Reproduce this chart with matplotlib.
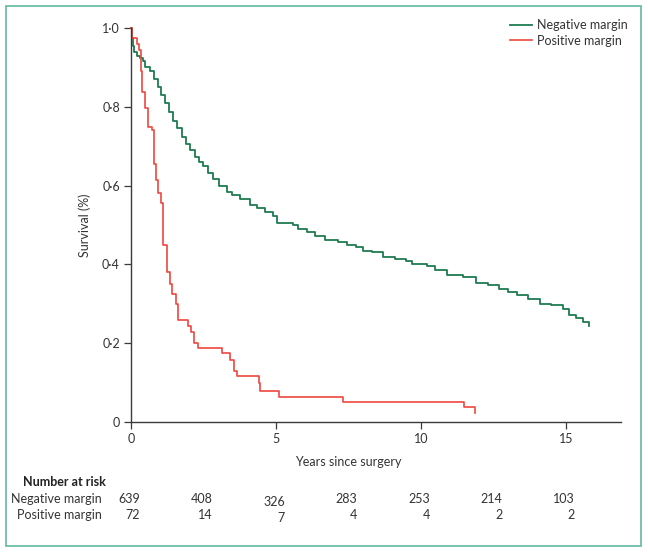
import matplotlib.pyplot as plt
import matplotlib.patches as patches
import numpy as np

plt.rcParams['font.family'] = ['Lato', 'DejaVu Sans']

# Kaplan-Meier steps (years, survival)
neg_t = [0, 0.03, 0.07, 0.12, 0.2, 0.31, 0.4, 0.48, 0.66, 0.8, 0.93, 1.05, 1.17, 1.3, 1.45,
         1.6, 1.76, 1.9, 2.03, 2.2, 2.35, 2.48, 2.65, 2.83, 3.05, 3.3, 3.5, 3.76, 4.1, 4.35,
         4.62, 4.9, 5.03, 5.59, 5.76, 6.07, 6.34, 6.7, 7.14, 7.45, 7.75, 8.0, 8.3, 8.69, 9.1,
         9.5, 9.7, 10.2, 10.5, 10.9, 11.45, 11.9, 12.3, 12.7, 13.0, 13.3, 13.7, 14.1, 14.5,
         14.9, 15.1, 15.35, 15.6, 15.8]
neg_s = [1.0, 0.975, 0.955, 0.94, 0.93, 0.924, 0.915, 0.9, 0.89, 0.87, 0.85, 0.83, 0.81, 0.787,
         0.765, 0.745, 0.723, 0.705, 0.69, 0.673, 0.66, 0.649, 0.632, 0.616, 0.6, 0.585, 0.577,
         0.567, 0.552, 0.543, 0.534, 0.522, 0.506, 0.499, 0.489, 0.483, 0.471, 0.463, 0.456,
         0.448, 0.443, 0.435, 0.432, 0.42, 0.414, 0.408, 0.4, 0.395, 0.385, 0.374, 0.369,
         0.354, 0.348, 0.338, 0.33, 0.323, 0.312, 0.3, 0.296, 0.287, 0.272, 0.265, 0.254, 0.244]

pos_t = [0, 0.04, 0.21, 0.28, 0.34, 0.38, 0.48, 0.59, 0.72, 0.79, 0.86, 0.93, 1.03, 1.1, 1.24,
         1.34, 1.41, 1.55, 1.62, 1.97, 2.07, 2.17, 2.31, 3.14, 3.41, 3.55, 3.65, 4.41, 4.45,
         5.1, 7.31, 11.48, 11.87]
pos_s = [1.0, 0.975, 0.96, 0.944, 0.89, 0.837, 0.796, 0.748, 0.74, 0.656, 0.613, 0.58, 0.557,
         0.45, 0.38, 0.351, 0.326, 0.3, 0.259, 0.244, 0.228, 0.2, 0.188, 0.175, 0.157, 0.13,
         0.118, 0.1, 0.079, 0.064, 0.05, 0.038, 0.023]

risk_times = [0, 2.5, 5, 7.5, 10, 12.5, 15]
risk_neg = [639, 408, 326, 283, 253, 214, 103]
risk_pos = [72, 14, 7, 4, 4, 2, 2]

green = '#1e7b50'
red = '#f0473f'
axcol = '#3a3a3a'

W, H = 648, 553
fig = plt.figure(figsize=(W / 100, H / 100), dpi=100)
ax = fig.add_axes([131 / W, 1 - 422 / H, 490 / W, 394 / H])

ax.plot(neg_t, neg_s, drawstyle='steps-post', color=green, lw=1.3, clip_on=False,
        label='Negative margin')
ax.plot(pos_t, pos_s, drawstyle='steps-post', color=red, lw=1.2, clip_on=False,
        label='Positive margin')

ax.set_xlim(0, 16.9)
ax.set_ylim(0, 1.0)
ax.set_xticks([0, 5, 10, 15])
ax.set_xticklabels(['0', '5', '10', '15'])
ax.set_yticks([0, 0.2, 0.4, 0.6, 0.8, 1.0])
ax.set_yticklabels(['0', '0\u00b72', '0\u00b74', '0\u00b76', '0\u00b78', '1\u00b70'])
for s in ['top', 'right']:
    ax.spines[s].set_visible(False)
for s in ['left', 'bottom']:
    ax.spines[s].set_color(axcol)
    ax.spines[s].set_linewidth(1.0)
ax.tick_params(colors=axcol, labelcolor='#333333', labelsize=9, length=5, width=0.9, pad=3)
ax.set_ylabel('Survival (%)', fontsize=9, color='#333333', labelpad=8)

px = 1 / 394.0  # one pixel in axes units (vertical)
trans = ax.get_xaxis_transform()

# x label sits under the middle of 0-15
ax.text(7.5, (422 - 462) * px, 'Years since surgery', transform=trans,
        ha='center', va='center', fontsize=9, color='#333333')

leg = ax.legend(loc='upper left', bbox_to_anchor=(510 / W, 1 - 19 / H),
                bbox_transform=fig.transFigure, frameon=False, fontsize=9,
                handlelength=1.75, handletextpad=0.4, labelspacing=0.3, borderpad=0,
                borderaxespad=0)
for t in leg.get_texts():
    t.set_color('#333333')

# number at risk table
fig.text(23 / W, 1 - 482 / H, 'Number at risk', fontsize=9, fontweight='bold',
         color='#222222', ha='left', va='center')
fig.text(102 / W, 1 - 499 / H, 'Negative margin', fontsize=9, color='#333333',
         ha='right', va='center')
fig.text(102 / W, 1 - 515 / H, 'Positive margin', fontsize=9, color='#333333',
         ha='right', va='center')
for i, t in enumerate(risk_times):
    dy = 3 if t == 5 else 0
    xr = t + 9 / 29.0
    ax.text(xr, (422 - 499 - dy) * px, str(risk_neg[i]), transform=trans,
            ha='right', va='center', fontsize=9, color='#333333', clip_on=False)
    ax.text(xr, (422 - 515 - dy) * px, str(risk_pos[i]), transform=trans,
            ha='right', va='center', fontsize=9, color='#333333', clip_on=False)

# teal frame round the whole panel
fig.patches.append(patches.Rectangle((6 / W, 7 / H), 635 / W, 540 / H,
                                     transform=fig.transFigure, fill=False,
                                     edgecolor='#62b9a0', lw=1.2))

fig.savefig('out.png', dpi=100)
